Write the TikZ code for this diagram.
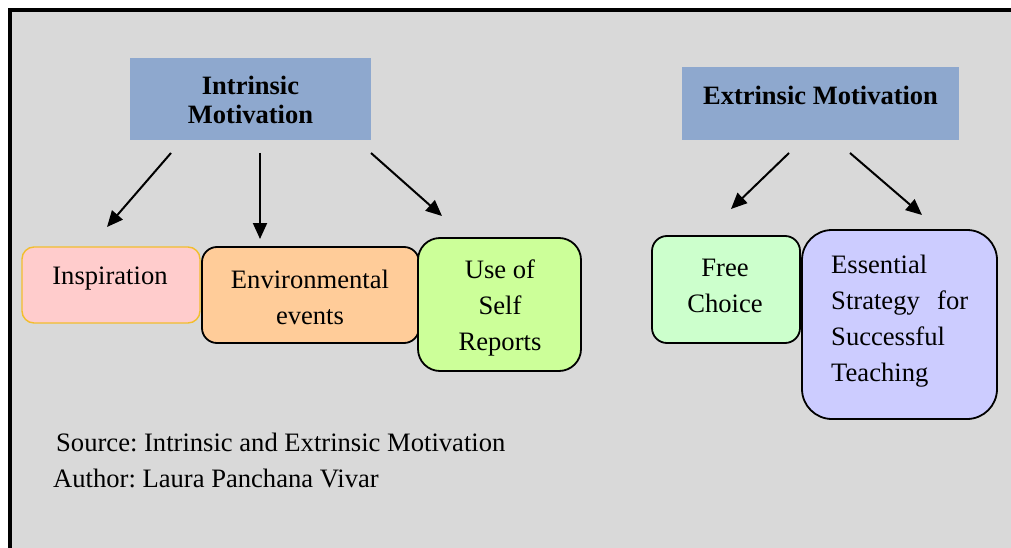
\documentclass[tikz,border=0pt]{standalone}
\usepackage{fontspec}
\setmainfont{Liberation Serif}
\usetikzlibrary{arrows.meta}
\definecolor{bggray}{HTML}{D9D9D9}
\definecolor{titleblue}{HTML}{8EA8CE}
\definecolor{inspfill}{HTML}{FFCCCC}
\definecolor{inspborder}{HTML}{F2BE2E}
\definecolor{envfill}{HTML}{FFCC99}
\definecolor{usefill}{HTML}{CCFF99}
\definecolor{freefill}{HTML}{CCFFCC}
\definecolor{essfill}{HTML}{CCCCFF}
\frenchspacing
\begin{document}
\begin{tikzpicture}[x=1pt,y=-1pt,
  titlebox/.style={fill=titleblue, inner sep=0pt},
  itembox/.style={draw=black, line width=1.8pt, inner sep=0pt},
  titletext/.style={font=\fontsize{26.5}{29}\selectfont\bfseries, align=center, inner sep=0pt},
  itemtext/.style={font=\fontsize{26.6}{36}\selectfont, align=center, inner sep=0pt},
  arr/.style={line width=2pt, -{Triangle[length=16pt,width=14pt]}}
]
\useasboundingbox (0,0) rectangle (1011,548);
\clip (0,0) rectangle (1011,548);
\fill[white] (0,0) rectangle (1011,548);
\draw[line width=4pt, fill=bggray] (10,10) rectangle (1060,600);

% title boxes
\node[titlebox, minimum width=241pt, minimum height=82pt] (intr) at (250.5,99) {};
\node[titletext] (intrt) at (250.5,100) {Intrinsic\\Motivation};
\node[titlebox, minimum width=277pt, minimum height=73pt] (extr) at (820.5,103.5) {};
\node[titletext] (extrt) at (820.5,95) {Extrinsic Motivation};

% item boxes
\node[itembox, draw=inspborder, line width=1.4pt, fill=inspfill, rounded corners=12pt,
  minimum width=178pt, minimum height=76pt] (insp) at (111,285) {};
\node[itemtext] (inspt) at (110,279) {Inspiration};
\node[itembox, fill=envfill, rounded corners=15pt,
  minimum width=217pt, minimum height=96pt] (env) at (310.5,295) {};
\node[itemtext] (envt) at (310,297) {Environmental\\events};
\node[itembox, fill=usefill, rounded corners=22pt,
  minimum width=163pt, minimum height=133pt] (use) at (499.5,304.5) {};
\node[itemtext] (uset) at (500,308) {Use of\\Self\\Reports};
\node[itembox, fill=freefill, rounded corners=15pt,
  minimum width=148pt, minimum height=107pt] (free) at (726,289.5) {};
\node[itemtext] (freet) at (725,286) {Free\\Choice};
\node[itembox, fill=essfill, rounded corners=30pt,
  minimum width=195pt, minimum height=189pt] (ess) at (899.5,324.5) {};
\node[itemtext, align=left, anchor=west] (esst) at (831,321)
  {Essential\\\makebox[137pt][l]{Strategy\hfill for}\\Successful\\Teaching};

% source text
\node[itemtext, anchor=west] (src) at (56,442) {Source: Intrinsic and Extrinsic Motivation};
\node[itemtext, anchor=west] (auth) at (53,478) {Author: Laura Panchana Vivar};

% arrow end points
\coordinate (a1s) at (171,153);
\coordinate (a1e) at (107,227);
\coordinate (a2s) at (260,153);
\coordinate (a2e) at (260,239);
\coordinate (a3s) at (371,153);
\coordinate (a3e) at (442,216);
\coordinate (a4s) at (789,153);
\coordinate (a4e) at (731,209);
\coordinate (a5s) at (850,153);
\coordinate (a5e) at (922,215);

\draw[arr] (a1s) -- (a1e);
\draw[arr] (a2s) -- (a2e);
\draw[arr] (a3s) -- (a3e);
\draw[arr] (a4s) -- (a4e);
\draw[arr] (a5s) -- (a5e);
\end{tikzpicture}
\end{document}
